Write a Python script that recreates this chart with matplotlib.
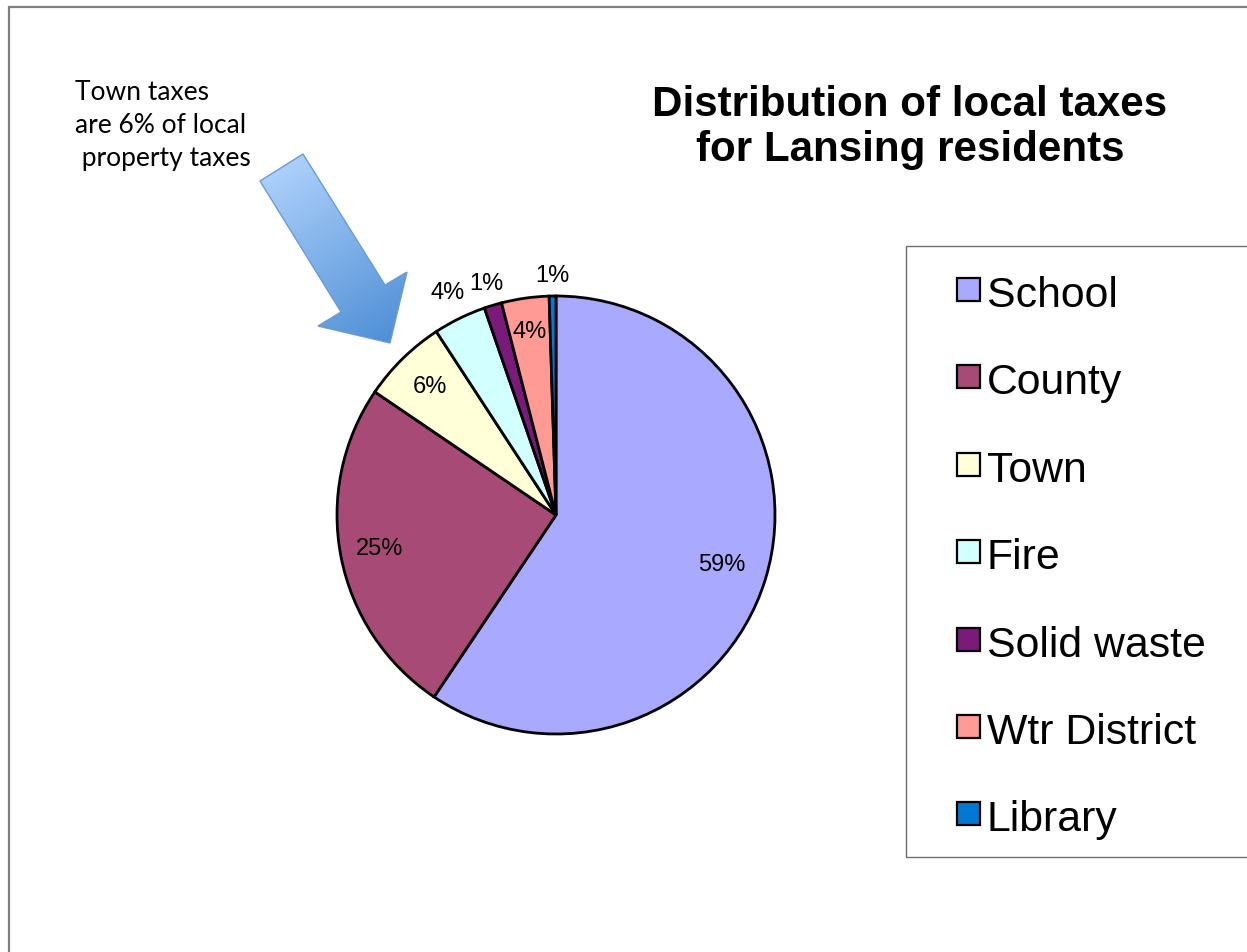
import numpy as np
import matplotlib
matplotlib.use("Agg")
import matplotlib.pyplot as plt
from matplotlib.patches import Rectangle, Polygon
from matplotlib.colors import LinearSegmentedColormap

# ---------------- data ----------------
categories = ["School", "County", "Town", "Fire", "Solid waste", "Wtr District", "Library"]
values = [59.4, 25.1, 6.3, 3.9, 1.3, 3.5, 0.5]
pct_labels = ["59%", "25%", "6%", "4%", "1%", "4%", "1%"]
colors = ["#A9AAFF", "#A84A76", "#FFFFD8", "#D2FFFF", "#7A1A7A", "#FF9B94", "#0078D4"]
title_lines = ["Distribution of local taxes", "for Lansing residents"]
note_lines = ["Town taxes", "are 6% of local", " property taxes"]

# ---------------- layout / style ----------------
W, H = 1247, 952
label_dist = [0.79, 0.82, 0.82, 1.13, 1.10, 0.845, 1.09]
ARIAL = "Liberation Sans"

fig = plt.figure(figsize=(W / 100, H / 100), dpi=100)
ax = fig.add_axes([0, 0, 1, 1])


def Y(y):
    return H - y


wedges, _ = ax.pie(values, colors=colors, startangle=90, counterclock=False,
                   center=(556, Y(515)), radius=219,
                   wedgeprops=dict(edgecolor="black", linewidth=2.0))
ax.set_xlim(0, W)
ax.set_ylim(0, H)
ax.set_aspect("equal")
ax.axis("off")

for w, lab, f in zip(wedges, pct_labels, label_dist):
    ang = np.deg2rad((w.theta1 + w.theta2) / 2)
    x = w.center[0] + f * w.r * np.cos(ang)
    y = w.center[1] + f * w.r * np.sin(ang)
    ax.text(x, y, lab, ha="center", va="center", fontsize=17, family=ARIAL, zorder=5)

# outer frame (left / top visible)
ax.add_patch(Rectangle((9, Y(1000)), 1300, 1000 - 7, fill=False,
                       edgecolor="#7f7f7f", linewidth=1.6, zorder=1))

# title
ax.text(910, Y(116), title_lines[0], ha="center", va="baseline", fontsize=30.3,
        fontweight="bold", family=ARIAL)
ax.text(910, Y(161), title_lines[1], ha="center", va="baseline", fontsize=30.3,
        fontweight="bold", family=ARIAL)

# legend
ax.add_patch(Rectangle((906, Y(857)), 400, 857 - 246, fill=False,
                       edgecolor="#6f6f6f", linewidth=1.0, zorder=1))
for i, (cat, col) in enumerate(zip(categories, colors)):
    base = 307 + i * 87.4
    ax.add_patch(Rectangle((957, Y(base - 6)), 23, 23, facecolor=col,
                           edgecolor="black", linewidth=1.6, zorder=3))
    ax.text(987, Y(base), cat, ha="left", va="baseline", fontsize=30.8, family=ARIAL)

# annotation text
note_x = [75, 75, 75]
note_base = [100, 133, 166]
for s, x, b in zip(note_lines, note_x, note_base):
    ax.text(x, Y(b), s, ha="left", va="baseline", fontsize=19, family="Lato")

# block arrow with gradient
pts_img = [(260, 181), (303, 154), (385, 285), (407, 272), (390, 343), (318, 326), (341, 312)]
pts = [(x, Y(y)) for x, y in pts_img]
poly = Polygon(pts, closed=True, facecolor="none", edgecolor="#6a9bd6", linewidth=1.0, zorder=4)
ax.add_patch(poly)
xs = np.array([p[0] for p in pts]); ys = np.array([p[1] for p in pts])
x0, x1, y0, y1 = xs.min(), xs.max(), ys.min(), ys.max()
gx, gy = np.meshgrid(np.linspace(x0, x1, 200), np.linspace(y0, y1, 200))
p0 = np.array([281, Y(167)]); p1 = np.array([390, Y(343)])
d = p1 - p0
t = ((gx - p0[0]) * d[0] + (gy - p0[1]) * d[1]) / (d @ d)
t = np.clip(t, 0, 1)
cmap = LinearSegmentedColormap.from_list("arrow", ["#acd0fa", "#4f8fd6"])
im = ax.imshow(t, extent=(x0, x1, y0, y1), origin="lower", cmap=cmap, zorder=3,
               interpolation="bilinear", aspect="auto")
im.set_clip_path(poly)
ax.set_xlim(0, W)
ax.set_ylim(0, H)

fig.savefig("out.png", dpi=100, facecolor="white")
